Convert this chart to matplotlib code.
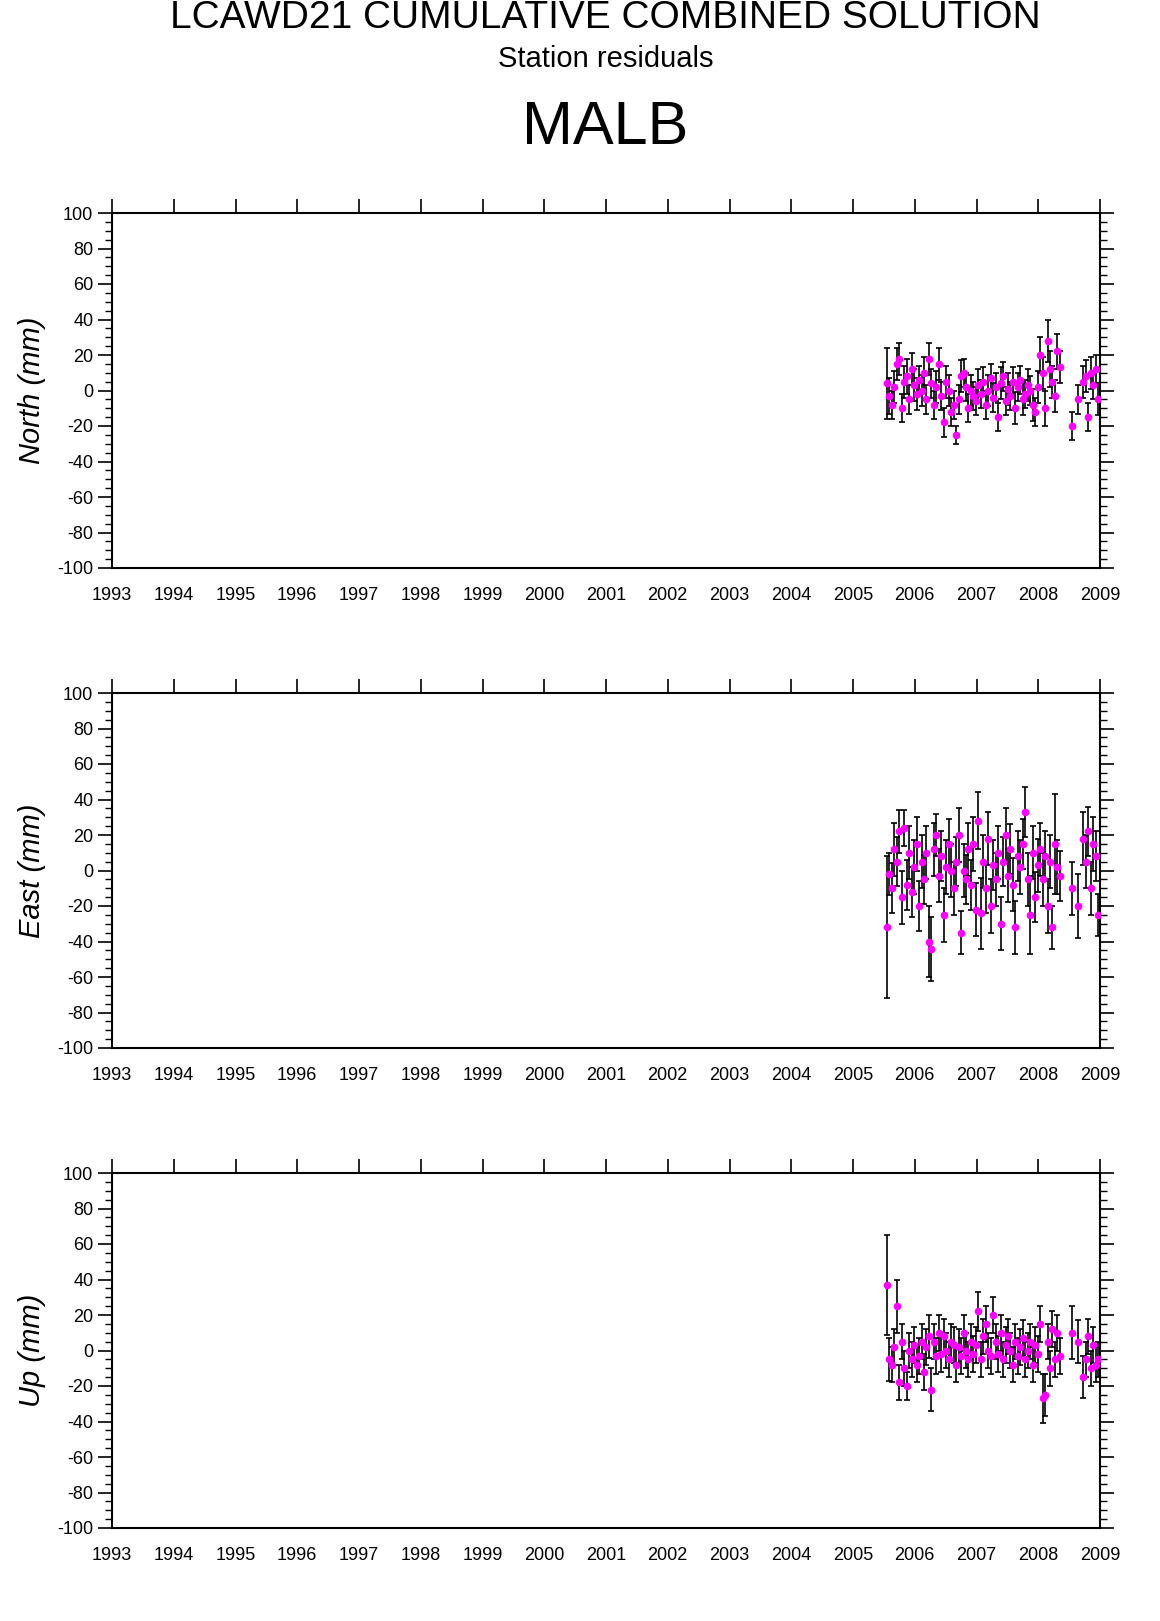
import matplotlib
matplotlib.use("Agg")
import matplotlib.pyplot as plt
from matplotlib.ticker import MultipleLocator

plt.rcParams['font.family'] = ['Liberation Sans', 'DejaVu Sans']
plt.rcParams['axes.unicode_minus'] = False

dates = [2005.55,2005.59,2005.63,2005.67,2005.71,2005.75,2005.79,2005.83,2005.87,2005.91,2005.95,2005.99,
 2006.03,2006.07,2006.11,2006.15,2006.19,2006.23,2006.27,2006.31,2006.35,2006.39,2006.43,2006.47,2006.51,
 2006.55,2006.59,2006.63,2006.67,2006.71,2006.75,2006.79,2006.83,2006.87,2006.91,2006.95,2006.99,
 2007.03,2007.07,2007.11,2007.15,2007.19,2007.23,2007.27,2007.31,2007.35,2007.39,2007.43,2007.47,2007.51,
 2007.55,2007.59,2007.63,2007.67,2007.71,2007.75,2007.79,2007.83,2007.87,2007.91,2007.95,2007.99,
 2008.03,2008.07,2008.11,2008.15,2008.19,2008.23,2008.27,2008.31,2008.35,
 2008.55,2008.65,2008.73,2008.77,2008.81,2008.85,2008.89,2008.93,2008.97]

north = [4,-3,-8,2,15,18,-10,5,8,-5,12,3,
 -2,6,0,10,-5,18,4,-8,2,15,-3,-18,5,0,-12,-8,-25,-5,8,10,2,-10,0,-3,-6,
 3,-2,5,-8,0,7,-4,2,-15,4,8,-6,1,-3,5,-10,2,6,-5,-2,3,0,-8,-12,2,
 20,10,-10,28,12,5,-3,22,13,
 -20,-5,5,8,-15,10,3,12,-5]
north_err = [20,10,8,9,9,9,8,9,10,8,9,9,
 9,8,9,9,8,9,8,8,9,9,8,8,9,9,8,8,5,8,9,8,8,8,9,8,8,
 9,8,8,8,9,8,8,8,8,9,8,8,9,8,8,9,8,8,9,8,9,8,9,8,9,
 10,9,10,12,10,9,9,10,9,
 8,8,9,9,8,9,8,8,9]

east = [-32,-2,-10,12,5,22,-15,24,-8,10,-12,2,
 15,-20,5,-5,10,-40,-44,12,20,-3,8,-25,2,15,0,-10,5,20,-35,0,-5,12,-8,15,-22,
 28,-24,5,-10,18,-20,3,-5,10,-30,5,20,-3,12,-8,-32,8,2,15,33,-5,-25,10,-15,3,
 12,-5,8,-20,5,-32,15,2,-3,
 -10,-20,18,5,22,-10,15,8,-25]
east_err = [40,12,14,15,14,12,15,10,14,15,14,15,
 15,14,15,14,15,20,18,15,12,15,14,15,15,14,15,15,14,15,12,15,14,15,14,15,15,
 16,20,15,14,15,15,14,15,15,15,14,15,15,14,15,15,14,15,14,14,15,22,15,14,15,
 15,15,14,15,15,12,28,15,14,
 15,18,15,15,14,15,15,14,12]

up = [37,-5,-8,2,25,-18,5,-10,-20,0,-5,3,
 -8,-3,5,-12,2,8,-22,5,-3,10,-2,8,0,-5,5,3,-8,2,-3,10,0,-5,5,-2,3,
 22,-5,8,15,0,-3,20,5,-2,10,-5,3,8,0,-8,5,-3,2,7,-5,0,5,-8,3,-2,
 15,-27,-25,5,-10,12,-5,10,-3,
 10,5,-15,-5,8,-10,3,-8,-5]
up_err = [28,12,10,10,15,10,10,10,8,10,10,10,
 10,10,10,10,10,12,12,10,10,10,10,10,10,10,10,10,10,10,10,10,10,10,10,10,10,
 11,10,10,10,10,10,10,10,10,10,10,10,10,10,10,10,10,10,10,10,10,10,10,10,10,
 10,14,12,10,10,10,10,10,10,
 15,12,12,10,10,10,10,10,10]

years = list(range(1993, 2010))
panels = [("North (mm)", north, north_err, 568),
          ("East (mm)", east, east_err, 1048),
          ("Up (mm)", up, up_err, 1528)]

W, H = 1160, 1621
fig = plt.figure(figsize=(W/100, H/100), dpi=100)
for label, vals, errs, ybot in panels:
    ax = fig.add_axes([112/W, 1-ybot/H, 988/W, 355/H])
    ax.errorbar(dates, vals, yerr=errs, fmt='none', ecolor='black', elinewidth=1.2, capsize=2.5, capthick=1.2, zorder=2)
    ax.plot(dates, vals, 'o', color='magenta', ms=4.5, zorder=3)
    ax.set_xlim(1993, 2009)
    ax.set_ylim(-100, 100)
    ax.set_xticks(years)
    ax.set_xticklabels([str(y) for y in years])
    ax.set_yticks(range(-100, 101, 20))
    ax.yaxis.set_minor_locator(MultipleLocator(5))
    ax.tick_params(axis='x', which='major', direction='out', length=10, width=1.2, labelsize=13,
                   top=True, bottom=False)
    ax.tick_params(axis='y', which='major', direction='out', length=10, width=1.2, labelsize=13, right=True)
    ax.tick_params(axis='y', which='minor', direction='out', length=5, width=1, right=True)
    for s in ax.spines.values():
        s.set_linewidth(1.5)
    ax.set_ylabel(label, fontsize=21, style='italic', labelpad=8)

fig.text(0.522, 1-18/H, "LCAWD21 CUMULATIVE COMBINED SOLUTION", ha='center', va='center', fontsize=28)
fig.text(0.522, 1-59/H, "Station residuals", ha='center', va='center', fontsize=21)
fig.text(0.522, 1-128/H, "MALB", ha='center', va='center', fontsize=44)
fig.savefig("out.png", dpi=100)
